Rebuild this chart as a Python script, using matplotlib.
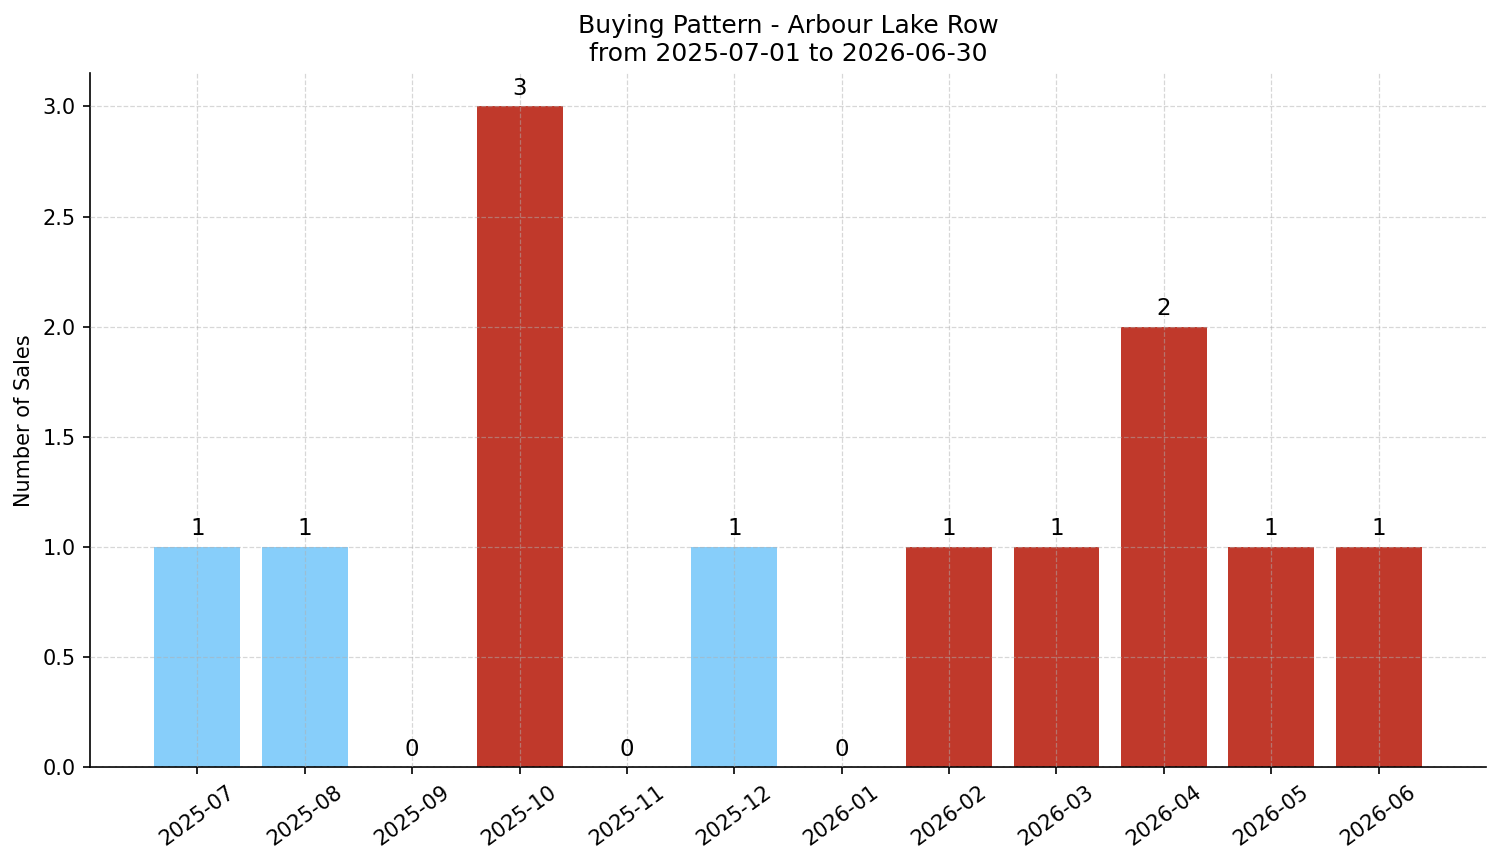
import matplotlib
matplotlib.use("Agg")
import matplotlib.pyplot as plt

months = ["2025-07", "2025-08", "2025-09", "2025-10", "2025-11", "2025-12",
          "2026-01", "2026-02", "2026-03", "2026-04", "2026-05", "2026-06"]
sales = [1, 1, 0, 3, 0, 1, 0, 1, 1, 2, 1, 1]
bar_colors = ["#87CEFA", "#87CEFA", "#87CEFA", "#C0392B", "#87CEFA", "#87CEFA",
              "#87CEFA", "#C0392B", "#C0392B", "#C0392B", "#C0392B", "#C0392B"]

fig, ax = plt.subplots(figsize=(15.01 / 1.5, 8.63 / 1.5), dpi=150)
x = list(range(len(months)))
bars = ax.bar(x, sales, color=bar_colors, width=0.8)

for b, v in zip(bars, sales):
    ax.text(b.get_x() + b.get_width() / 2, v + 0.03, str(v),
            ha="center", va="bottom", fontsize=11)

ax.set_xticks(x)
ax.set_xticklabels(months, rotation=36, ha="center")
ax.set_xlim(-1, 12)
ax.set_ylim(0, 3.15)
ax.set_ylabel("Number of Sales")
ax.set_title("Buying Pattern - Arbour Lake Row\nfrom 2025-07-01 to 2026-06-30", fontsize=12)
ax.grid(True, linestyle="--", linewidth=0.6, alpha=0.5, color="#b0b0b0")
ax.set_axisbelow(False)
ax.spines["top"].set_visible(False)
ax.spines["right"].set_visible(False)

fig.subplots_adjust(left=0.06, right=0.99, top=0.915, bottom=0.111)
plt.savefig("out.png")
